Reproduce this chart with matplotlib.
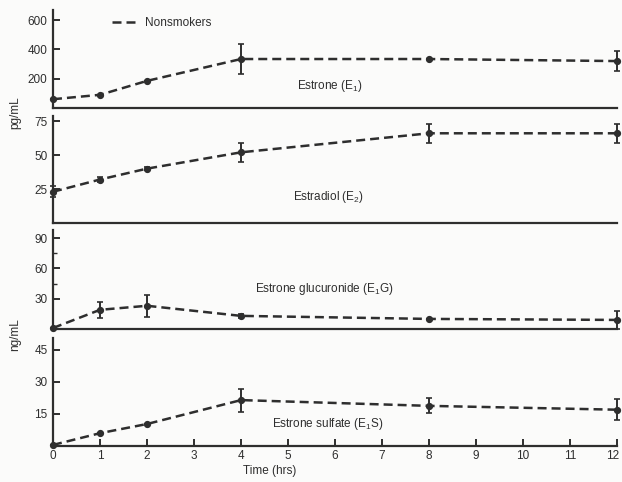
import matplotlib
matplotlib.use("Agg")
import matplotlib.pyplot as plt
from matplotlib.lines import Line2D
from matplotlib.ticker import FixedLocator
from matplotlib.transforms import ScaledTranslation

# sampling times (hours)
hours = [0, 1, 2, 4, 8, 12]

# estrone, pg/mL
e1_mean = [60, 90, 185, 334, 334, 320]
e1_err = [0, 0, 0, 105, 0, 70]

# estradiol, pg/mL
e2_mean = [23, 32, 40, 52, 66, 66]
e2_err = [4, 2, 1, 7, 7, 7]

# estrone glucuronide, ng/mL
e1g_mean = [1, 19, 23, 13, 10, 9]
e1g_err = [0, 8, 11, 2, 0, 9]

# estrone sulfate, ng/mL
e1s_mean = [0.5, 6, 10.3, 21.5, 18.8, 17]
e1s_err = [0, 0, 0, 5.4, 3.5, 5]

panels = [
    ("Estrone (E$_1$)", e1_mean, e1_err, [200, 400, 600], [], 668, (5.2, 150)),
    ("Estradiol (E$_2$)", e2_mean, e2_err, [25, 50, 75], [], 78.7, (5.1, 19)),
    ("Estrone glucuronide (E$_1$G)", e1g_mean, e1g_err, [30, 60, 90], [45, 75], 98, (4.3, 40)),
    ("Estrone sulfate (E$_1$S)", e1s_mean, e1s_err, [15, 30, 45], [], 50.6, (4.66, 10.3)),
]

INK = "#2e2e2e"
DASH = (0, (3.6, 2.0))
plt.rcParams.update({
    "font.family": ["Liberation Sans", "DejaVu Sans"],
    "font.size": 8.5,
    "mathtext.fontset": "custom",
    "mathtext.rm": "Liberation Sans",
    "mathtext.it": "Liberation Sans",
    "text.color": INK,
    "axes.edgecolor": INK,
    "xtick.color": INK,
    "ytick.color": INK,
})

fig = plt.figure(figsize=(6.22, 4.82), dpi=100, facecolor="#fbfbfa")

# (bottom, height) for each stacked panel, in figure fractions
boxes = [(0.7759, 0.2033), (0.5373, 0.2220), (0.3174, 0.2054), (0.0747, 0.2241)]
left, width = 0.0852, 0.9068

axes = []
for (title, mean, err, ticks, minor, ytop, (tx, ty)), (b, h) in zip(panels, boxes):
    ax = fig.add_axes([left, b, width, h])
    ax.set_facecolor("none")
    ax.errorbar(hours, mean, yerr=err, color=INK, linestyle=DASH,
                linewidth=1.8, marker="o", markersize=4.2, markerfacecolor=INK,
                markeredgecolor=INK, ecolor=INK, elinewidth=1.4, capsize=2.5,
                capthick=1.2, clip_on=False, zorder=3)
    ax.set_xlim(0, 12)
    ax.set_ylim(0, ytop)
    ax.yaxis.set_major_locator(FixedLocator(ticks))
    ax.yaxis.set_minor_locator(FixedLocator(minor))
    for side in ("top", "right"):
        ax.spines[side].set_visible(False)
    ax.spines["left"].set_linewidth(1.6)
    ax.spines["bottom"].set_linewidth(1.6)
    ax.tick_params(axis="y", which="major", direction="in", length=5, width=1.4, pad=4)
    ax.tick_params(axis="y", which="minor", direction="in", length=3, width=1.0)
    ax.text(tx, ty, title, ha="left", va="center", fontsize=8.5)
    axes.append(ax)

for ax in axes[:-1]:
    ax.set_xticks([])

bottom_ax = axes[-1]
bottom_ax.set_xticks(range(0, 13))
bottom_ax.tick_params(axis="x", direction="in", length=5, width=1.4, pad=3)
# keep the last hour label inside the canvas
last = bottom_ax.get_xticklabels()[-1]
last.set_transform(last.get_transform() + ScaledTranslation(-4 / 100, 0, fig.dpi_scale_trans))

# legend entry for the dashed series
handle = Line2D([], [], color=INK, linestyle=DASH, linewidth=1.8)
axes[0].legend([handle], ["Nonsmokers"], loc="upper left", frameon=False,
               bbox_to_anchor=(0.085, 1.04), handlelength=2.4, handletextpad=0.4,
               fontsize=8.5)

fig.text(15 / 622, 1 - 113 / 482, "pg/mL", rotation=90, ha="center", va="center", fontsize=8.5)
fig.text(15 / 622, 1 - 335 / 482, "ng/mL", rotation=90, ha="center", va="center", fontsize=8.5)
fig.text(270 / 622, 1 - 471 / 482, "Time (hrs)", ha="center", va="center", fontsize=8.5)

fig.savefig("out.png", dpi=100, facecolor=fig.get_facecolor())
